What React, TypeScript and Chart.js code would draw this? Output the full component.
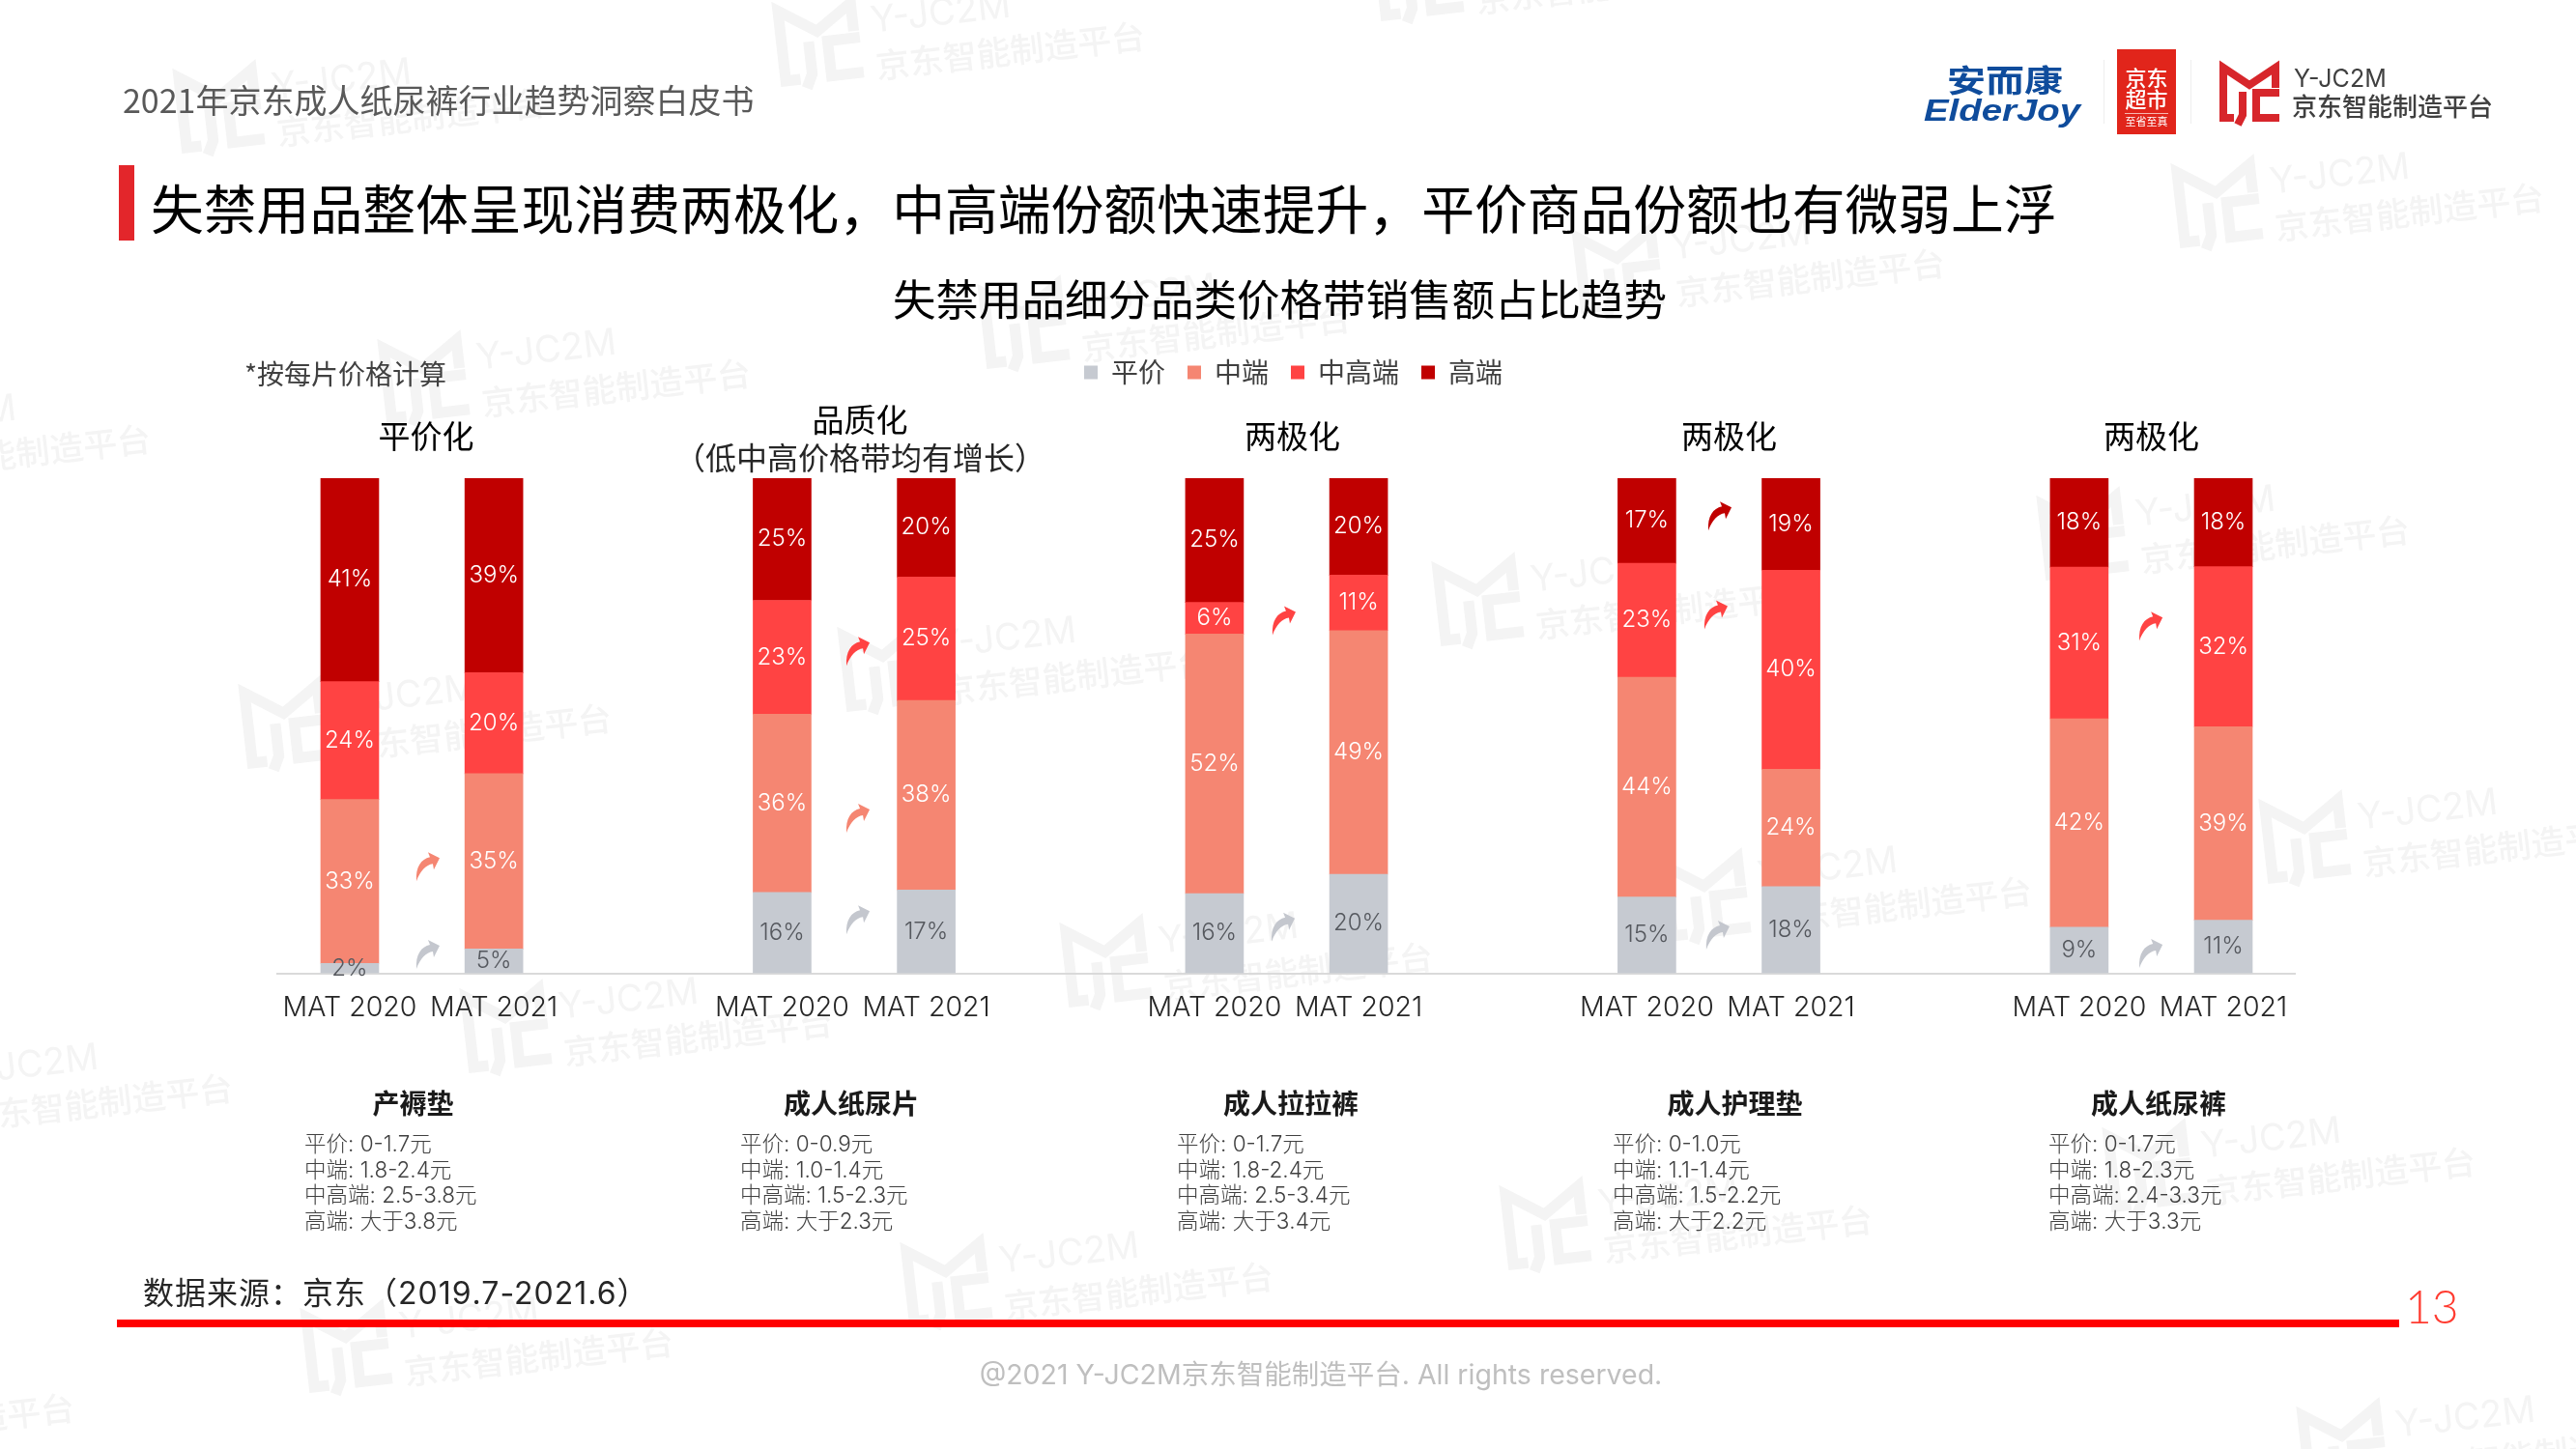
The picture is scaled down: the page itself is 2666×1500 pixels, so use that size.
import React, { useEffect, useRef } from "react";
import { Chart, registerables } from "chart.js";

Chart.register(...registerables);

const FONT = 'Inter, "Noto Sans CJK SC", sans-serif';
const CJK = '"Noto Sans CJK SC", Inter, sans-serif';

const categories = [
  "MAT 2020", "MAT 2021", "",
  "MAT 2020", "MAT 2021", "",
  "MAT 2020", "MAT 2021", "",
  "MAT 2020", "MAT 2021", "",
  "MAT 2020", "MAT 2021",
];
const seriesNames = ["平价", "中端", "中高端", "高端"];
const flat = [2.0, 4.9, null, 16.3, 16.8, null, 16.1, 20.0, null, 15.4, 17.5, null, 9.3, 10.7];
const mid = [33.1, 35.4, null, 36.0, 38.3, null, 52.4, 49.2, null, 44.4, 23.7, null, 42.1, 39.1];
const midHigh = [23.8, 20.4, null, 23.0, 24.9, null, 6.4, 11.2, null, 23.0, 40.2, null, 30.6, 32.3];
const high = [41.1, 39.3, null, 24.7, 20.0, null, 25.1, 19.6, null, 17.2, 18.6, null, 18.0, 17.9];
const seriesColors = ["#C6CAD1", "#F58672", "#FF4343", "#C00000"];

// group captions: [category position, text lines]
const groupHeads: [number, string[]][] = [
  [0.53, ["平价化"]],
  [3.54, ["品质化", "（低中高价格带均有增长）"]],
  [6.54, ["两极化"]],
  [9.57, ["两极化"]],
  [12.5, ["两极化"]],
];
const productNames: [number, string][] = [
  [0.44, "产褥垫"], [3.48, "成人纸尿片"], [6.53, "成人拉拉裤"], [9.61, "成人护理垫"], [12.55, "成人纸尿裤"],
];
const priceBands: [number, string[]][] = [
  [315, ["平价: 0-1.7元", "中端: 1.8-2.4元", "中高端: 2.5-3.8元", "高端: 大于3.8元"]],
  [766, ["平价: 0-0.9元", "中端: 1.0-1.4元", "中高端: 1.5-2.3元", "高端: 大于2.3元"]],
  [1218, ["平价: 0-1.7元", "中端: 1.8-2.4元", "中高端: 2.5-3.4元", "高端: 大于3.4元"]],
  [1669, ["平价: 0-1.0元", "中端: 1.1-1.4元", "中高端: 1.5-2.2元", "高端: 大于2.2元"]],
  [2120, ["平价: 0-1.7元", "中端: 1.8-2.3元", "中高端: 2.4-3.3元", "高端: 大于3.3元"]],
];
// growth arrows: [category position, value position, series index]
const arrows: [number, number, number][] = [
  [0.543, 21.5, 1], [0.543, 3.8, 0],
  [3.527, 65.0, 2], [3.527, 31.3, 1], [3.527, 10.8, 0],
  [6.483, 71.2, 2], [6.477, 9.3, 0],
  [9.507, 92.3, 3], [9.48, 72.4, 2], [9.493, 7.7, 0],
  [12.498, 70.1, 2], [12.498, 4.0, 0],
];
// watermark anchors, page px
const watermarks: [number, number][] = [
  [179, 77], [799, 8], [1420, -60],
  [-230, 425], [391, 357], [1012, 300], [1627, 243], [2247, 175],
  [247, 714], [867, 655], [1482, 587], [2108, 519],
  [-145, 1097], [476, 1029], [1097, 961], [1717, 893], [2338, 833],
  [-309, 1428], [311, 1360], [932, 1292], [1552, 1233], [2176, 1173],
  [1756, 1530], [2377, 1462],
];

const fmt = (v: number) => `${Math.round(v)}%`;

function text(ctx: CanvasRenderingContext2D, s: string, x: number, y: number, font: string, color: string, align: CanvasTextAlign = "left") {
  ctx.font = font;
  ctx.fillStyle = color;
  ctx.textAlign = align;
  ctx.textBaseline = "middle";
  ctx.fillText(s, x, y);
}

function mLogo(ctx: CanvasRenderingContext2D, x: number, y: number, k: number, color: string) {
  ctx.save();
  ctx.translate(x, y);
  ctx.scale(k, k);
  ctx.strokeStyle = color;
  ctx.lineWidth = 8;
  ctx.lineJoin = "miter";
  ctx.beginPath();
  ctx.moveTo(4, 36); ctx.lineTo(4, 3); ctx.lineTo(31, 21); ctx.lineTo(58, 3); ctx.lineTo(58, 24);
  ctx.moveTo(4, 36); ctx.lineTo(4, 55); ctx.lineTo(15, 55);
  ctx.moveTo(24, 28); ctx.lineTo(24, 52); ctx.lineTo(19, 62);
  ctx.moveTo(62, 29); ctx.lineTo(38, 29); ctx.lineTo(38, 55); ctx.lineTo(62, 55);
  ctx.stroke();
  ctx.restore();
}

const decor = {
  id: "decor",
  beforeLayout(chart: any) {
    const lg = chart.legend;
    if (lg && !lg.__patched) {
      const f = lg.fit;
      lg.fit = function () {
        f.call(this);
        this.height += 85.5;
      };
      lg.__patched = true;
    }
  },
  afterLayout(chart: any) {
    if (chart.legend) { chart.legend.left += 7; chart.legend.right += 7; }
    if (chart.titleBlock) { chart.titleBlock.left -= 7; chart.titleBlock.right -= 7; }
  },
  beforeDraw(chart: any) {
    const ctx: CanvasRenderingContext2D = chart.ctx;
    ctx.save();
    ctx.fillStyle = "#ffffff";
    ctx.fillRect(0, 0, chart.width, chart.height);
    for (const [x, y] of watermarks) {
      ctx.save();
      ctx.translate(x, y);
      ctx.rotate(-6.5 * Math.PI / 180);
      mLogo(ctx, 0, 0, 1.4, "#F4F4F4");
      text(ctx, "Y-JC2M", 100, 26, `400 38px ${FONT}`, "#F4F4F4");
      text(ctx, "京东智能制造平台", 100, 72, `500 35px ${CJK}`, "#F4F4F4");
      ctx.restore();
    }
    ctx.restore();
  },
  afterDatasetsDraw(chart: any) {
    const ctx: CanvasRenderingContext2D = chart.ctx;
    const xs = chart.scales.x;
    const ys = chart.scales.y;
    ctx.save();
    chart.data.datasets.forEach((ds: any, di: number) => {
      chart.getDatasetMeta(di).data.forEach((el: any, i: number) => {
        const v = ds.data[i];
        if (v == null) return;
        text(ctx, fmt(v), el.x, (el.y + el.base) / 2, `300 24px ${FONT}`, di === 0 ? "#55585E" : "#FFFFFF", "center");
      });
    });
    const arrow = new Path2D("M0,30 C-1,15 5,7 14,5 L12,0 L24,6 L18,18 L17,12 C10,13 4,19 0,30 Z");
    for (const [cx, vy, si] of arrows) {
      ctx.save();
      ctx.translate(xs.getPixelForValue(cx) - 12, ys.getPixelForValue(vy) - 15);
      ctx.fillStyle = si === 0 ? "#C4C7CE" : seriesColors[si];
      ctx.fill(arrow);
      ctx.restore();
    }
    ctx.restore();
  },
  afterDraw(chart: any) {
    const ctx: CanvasRenderingContext2D = chart.ctx;
    const xs = chart.scales.x;
    ctx.save();
    // header
    text(ctx, "2021年京东成人纸尿裤行业趋势洞察白皮书", 127, 104, `400 34px ${CJK}`, "#595959");
    ctx.fillStyle = "#E3262B";
    ctx.fillRect(123, 171, 16, 78);
    text(ctx, "失禁用品整体呈现消费两极化，中高端份额快速提升，平价商品份额也有微弱上浮", 156, 216, `400 54.8px ${CJK}`, "#000000");
    text(ctx, "*按每片价格计算", 253, 387, `400 28px ${CJK}`, "#404040");

    // logos
    ctx.save();
    ctx.translate(2075, 83);
    ctx.scale(1.25, 1);
    text(ctx, "安而康", 0, 0, `700 32px ${CJK}`, "#0F4C9C", "center");
    ctx.restore();
    ctx.save();
    ctx.translate(2072, 116);
    ctx.scale(1.2, 1);
    text(ctx, "ElderJoy", 0, 0, `italic 700 32px "Liberation Sans"`, "#0F4C9C", "center");
    ctx.restore();
    ctx.fillStyle = "#EEEEEE";
    ctx.fillRect(2177, 62, 1, 66);
    ctx.fillRect(2267, 62, 1, 66);
    ctx.fillStyle = "#E1251B";
    ctx.fillRect(2191, 51, 61, 88);
    text(ctx, "京东", 2221.5, 81, `500 22px ${CJK}`, "#FFFFFF", "center");
    text(ctx, "超市", 2221.5, 103, `500 22px ${CJK}`, "#FFFFFF", "center");
    ctx.fillStyle = "#F7B7B0";
    ctx.fillRect(2199, 117, 45, 1);
    text(ctx, "至省至真", 2221.5, 126, `400 11px ${CJK}`, "#FFFFFF", "center");
    mLogo(ctx, 2297, 67, 1, "#D7262B");
    text(ctx, "Y-JC2M", 2374, 82, `400 25px ${FONT}`, "#404040");
    text(ctx, "京东智能制造平台", 2372, 110, `500 26px ${CJK}`, "#404040");

    // group captions
    for (const [pos, lines] of groupHeads) {
      const x = xs.getPixelForValue(pos);
      if (lines.length === 1) {
        text(ctx, lines[0], x, 451, `400 33px ${CJK}`, "#000000", "center");
      } else {
        text(ctx, lines[0], x, 434, `400 33px ${CJK}`, "#000000", "center");
        text(ctx, lines[1], x, 474, `400 32px ${CJK}`, "#262626", "center");
      }
    }
    // product names and bands
    for (const [pos, name] of productNames) {
      text(ctx, name, xs.getPixelForValue(pos), 1142, `700 28px ${CJK}`, "#1A1A1A", "center");
    }
    for (const [x, lines] of priceBands) {
      lines.forEach((l, i) => text(ctx, l, x, 1185 + i * 26.8, `300 22.5px ${FONT}`, "#404040"));
    }
    // footer
    (ctx as any).letterSpacing = "1px";
    text(ctx, "数据来源：京东（2019.7-2021.6）", 148, 1340, `400 32px ${FONT}`, "#262626");
    (ctx as any).letterSpacing = "0px";
    ctx.fillStyle = "#FF0000";
    ctx.fillRect(121, 1366, 2362, 8);
    text(ctx, "13", 2489, 1355, `300 48px Lato, ${FONT}`, "#FF3B30");
    text(ctx, "@2021 Y-JC2M京东智能制造平台. All rights reserved.", 1367, 1424, `400 28.5px ${FONT}`, "#BFBFBF", "center");
    ctx.restore();
  },
};

export default function App() {
  const ref = useRef<HTMLCanvasElement>(null);
  useEffect(() => {
    const chart = new Chart(ref.current as HTMLCanvasElement, {
      type: "bar",
      data: {
        labels: categories,
        datasets: [flat, mid, midHigh, high].map((d, i) => ({
          label: seriesNames[i],
          data: d,
          backgroundColor: seriesColors[i],
          borderWidth: 0,
          barThickness: 60,
        })),
      },
      options: {
        animation: false,
        responsive: false,
        devicePixelRatio: 1,
        layout: { padding: { left: 287.4, right: 290.4, top: 0, bottom: 432.5 } },
        scales: {
          x: {
            stacked: true,
            grid: { display: false },
            border: { display: true, color: "#DADADA", width: 2 },
            ticks: {
              autoSkip: false,
              maxRotation: 0,
              minRotation: 0,
              padding: 11,
              color: "#262626",
              font: { family: FONT, size: 28.5, weight: "300" },
            },
            afterFit: (s: any) => { s.height = 60; },
          },
          y: { stacked: true, display: false, min: 0, max: 100 },
        },
        plugins: {
          tooltip: { enabled: false },
          title: {
            display: true,
            text: "失禁用品细分品类价格带销售额占比趋势",
            color: "#000000",
            font: { family: CJK, size: 44.5, weight: "400" },
            padding: { top: 283, bottom: 12 },
          },
          legend: {
            display: true,
            position: "top",
            labels: {
              boxWidth: 14,
              boxHeight: 14,
              padding: 23,
              color: "#404040",
              font: { family: CJK, size: 28 },
            },
          },
        },
      },
      plugins: [decor],
    } as any);
    return () => chart.destroy();
  }, []);
  return (
    <div style={{ position: "absolute", left: 0, top: 0, width: 2666, height: 1500, overflow: "hidden", background: "#fff" }}>
      <canvas ref={ref} width={2666} height={1500} style={{ display: "block", width: 2666, height: 1500 }} />
    </div>
  );
}
